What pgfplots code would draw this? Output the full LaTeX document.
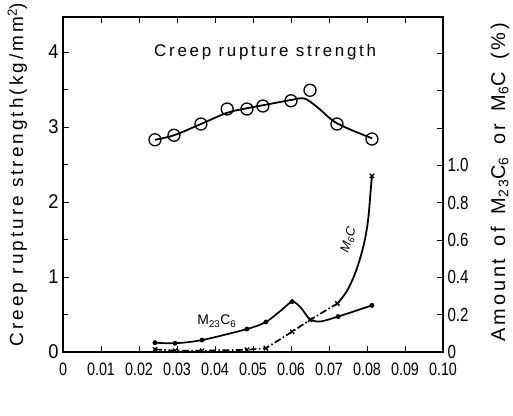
\documentclass[border=0pt]{standalone}
\usepackage{pgfplots}
\pgfplotsset{compat=1.18}
\usepackage{fontspec}
\setmainfont{Liberation Sans}
\newfontfamily\tickfnt[FakeStretch=0.8]{Liberation Sans}
\newfontfamily\ytickfnt[FakeStretch=0.92]{Liberation Sans}
\newfontfamily\spaced[LetterSpace=16]{Liberation Sans}
\newfontfamily\spacedR[LetterSpace=14,WordSpace=1.5]{Liberation Sans}
\begin{document}
\begin{tikzpicture}
\pgfplotsset{
  common/.style={
    scale only axis, width=380bp, height=335bp,
    xmin=0, xmax=0.1,
    tick align=inside,
    major tick length=6bp, minor tick length=5bp,
    axis line style={line width=1.2pt},
    every tick/.style={line width=0.9pt, black},
    tick label style={font=\tickfnt\fontsize{18}{19}\selectfont},
    /pgf/number format/assume math mode=true,
  }
}
\begin{axis}[common,
  ymin=0, ymax=4.467,
  xtick={0,0.01,0.02,0.03,0.04,0.05,0.06,0.07,0.08,0.09,0.1},
  xticklabels={0,0.01,0.02,0.03,0.04,0.05,0.06,0.07,0.08,0.09,0.10},
  xtick pos=both, ytick pos=left,
  x tick label style={yshift=-7bp},
  y tick label style={font=\ytickfnt\fontsize{20}{21}\selectfont, xshift=-1bp},
  ytick={0,1,2,3,4}, minor ytick={0.5,1.5,2.5,3.5},
  ylabel={\spaced\fontsize{19}{20}\selectfont Creep rupture strength(kg/mm\textsuperscript{2})},
  ylabel style={at={(axis description cs:-0.12,0.53)}, anchor=center, rotate=0},
]
% smooth curve through creep rupture strength
\addplot[line width=1.8pt, smooth, tension=0.55] coordinates {
 (0.0242,2.83) (0.0292,2.89) (0.0363,3.04) (0.0432,3.19) (0.0484,3.25)
 (0.0526,3.29) (0.060,3.36) (0.0635,3.38) (0.0668,3.27) (0.0721,3.05) (0.0813,2.85)};
\addplot[only marks, mark=o, mark size=6bp, mark options={line width=1.3pt, fill=white, draw=black}] coordinates {
 (0.0242,2.83) (0.0292,2.89) (0.0363,3.04) (0.0432,3.24) (0.0484,3.24)
 (0.0526,3.28) (0.060,3.35) (0.065,3.49) (0.0721,3.04) (0.0813,2.84)};
\node[anchor=center, font=\spaced\fontsize{17}{18}\selectfont] at (axis cs:0.0532,4.0) {Creep rupture strength};
\node[anchor=center, font=\fontsize{19}{20}\selectfont] at (axis description cs:0.479,-0.119) {C};
\node[anchor=center, font=\fontsize{19}{20}\selectfont] at (axis description cs:0.742,-0.113) {(\%)};
\end{axis}
\begin{axis}[common,
  ymin=0, ymax=1.796,
  axis x line=none, axis y line*=right,
  ytick={0,0.2,0.4,0.6,0.8,1.0,1.2,1.4,1.6},
  yticklabels={0,0.2,0.4,0.6,0.8,1.0,,,},
  y tick label style={font=\tickfnt\fontsize{19}{20}\selectfont, xshift=1bp},
  ylabel={\spacedR\fontsize{20}{21}\selectfont Amount of M\textsubscript{23}C\textsubscript{6} or M\textsubscript{6}C (\%)},
  ylabel style={at={(axis description cs:1.15,0.507)}, anchor=center, rotate=0},
]
% M23C6
\addplot[line width=1.7pt, smooth, tension=0.5] coordinates {
 (0.0242,0.05) (0.0295,0.047) (0.0366,0.064) (0.0484,0.123) (0.0534,0.161)
 (0.0575,0.225) (0.0603,0.27) (0.0625,0.24) (0.0648,0.18) (0.0675,0.163) (0.0724,0.19) (0.0813,0.25)};
\addplot[only marks, mark=*, mark size=2.2bp] coordinates {
 (0.0242,0.05) (0.0295,0.047) (0.0366,0.064) (0.0484,0.123) (0.0534,0.161)
 (0.0603,0.27) (0.0724,0.19) (0.0813,0.25)};
% M6C dash-dot part
\addplot[line width=1.7pt, dash pattern=on 7bp off 2.5bp on 1.5bp off 2.5bp] coordinates {
 (0.0242,0.014) (0.0295,0.007) (0.0366,0.007) (0.0484,0.012) (0.0534,0.02)
 (0.0603,0.109) (0.065,0.172) (0.0722,0.26)};
% M6C solid part
\addplot[line width=1.8pt, smooth, tension=0.6] coordinates {
 (0.0722,0.26) (0.0748,0.33) (0.0772,0.44) (0.0792,0.58) (0.0803,0.71) (0.0809,0.85) (0.0813,0.944)};
\addplot[only marks, mark=x, mark size=3bp, mark options={line width=1.3pt}] coordinates {
 (0.0242,0.014) (0.0295,0.007) (0.0366,0.007) (0.0484,0.012) (0.0534,0.02)
 (0.0603,0.109) (0.065,0.172) (0.0722,0.26) (0.0813,0.944)};
\node[font=\fontsize{14}{15}\selectfont] at (axis cs:0.0405,0.165) {M\textsubscript{23}C\textsubscript{6}};
\node[font=\itshape\fontsize{13}{14}\selectfont, rotate=72] at (axis cs:0.0752,0.60) {M\textsubscript{6}C};
\end{axis}
\pgfresetboundingbox
\path (current axis.south west) ++(-63bp,-64bp) rectangle ++(513bp,416bp);
\end{tikzpicture}
\end{document}
